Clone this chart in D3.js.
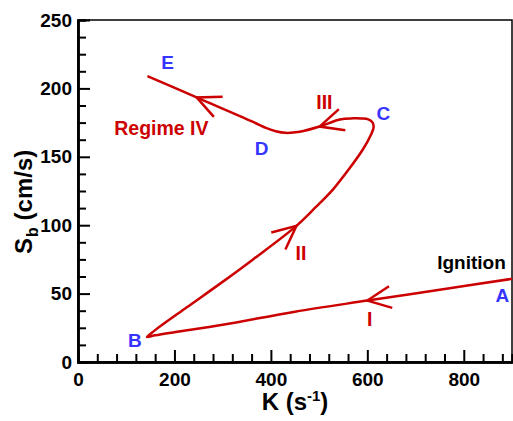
<!DOCTYPE html>
<html>
<head>
<meta charset="utf-8">
<script src="https://cdn.jsdelivr.net/npm/d3@7"></script>
<style>
  body { margin: 0; background: #fff; }
  text { font-family: "Liberation Sans", Arial, sans-serif; font-weight: bold; }
</style>
</head>
<body>
<div id="chart"></div>
<script>
// curve traced from A (ignition) through B, C, D to E
const curveK = [900, 750, 600, 450, 300, 200, 160, 143, 160, 225, 294, 363, 453, 494, 529, 563, 591, 608, 613, 611, 602, 588, 570, 543, 501, 460, 430, 410, 391, 363, 246, 144]
const curveS = [60.8, 52.8, 44.9, 36.8, 27.2, 21.8, 19.5, 18.3, 23.3, 39.8, 57.1, 75, 99.5, 113.5, 126.2, 141.5, 155.5, 166.5, 171.5, 175, 177.3, 178, 178.1, 177.3, 172.1, 168.3, 167.5, 168.7, 170.9, 175.5, 193.4, 209]

// arrow tips sit on the curve
const arrowK = [600, 453, 501, 246]
const arrowS = [44.9, 99.5, 172.1, 193.4]

const pointNames = ["A", "B", "C", "D", "E"]
const pointK = [880, 118, 633, 381, 186]
const pointS = [48.6, 16.1, 182.1, 156.2, 219.5]

const regimeNames = ["I", "II", "III", "Regime IV"]
const regimeK = [605, 462.5, 511, 173]
const regimeS = [31.5, 79.5, 190.2, 171]

const xTicks = [0, 200, 400, 600, 800]
const yTicks = [0, 50, 100, 150, 200, 250]

var margin = { top: 20, right: 1, bottom: 59, left: 78 }
  , width = 513 - margin.left - margin.right
  , height = 421 - margin.top - margin.bottom;

const red = "#cc0000", blue = "#3535ff"

var svg = d3.select("#chart").append("svg")
  .attr("width", 513)
  .attr("height", 421)
  .append("g")
  .attr("transform", "translate(" + margin.left + "," + margin.top + ")");

var x = d3.scaleLinear().domain([0, 900]).range([0, width])
var y = d3.scaleLinear().domain([0, 250]).range([height, 0])

// frame (top/right thin)
svg.append("rect")
  .attr("width", width).attr("height", height)
  .attr("fill", "none").attr("stroke", "#000").attr("stroke-width", 1.5)

// inward ticks, minor ones first
var xMinor = d3.range(0, 901, 40).filter(v => v % 200 != 0)
var yMinor = d3.range(0, 251, 12.5).filter(v => v % 50 != 0)

svg.append("g")
  .attr("transform", "translate(0," + height + ")")
  .call(d3.axisBottom(x).tickValues(xMinor).tickSize(-8).tickFormat(""))
svg.append("g")
  .call(d3.axisLeft(y).tickValues(yMinor).tickSize(-8).tickFormat(""))

var xAxis = svg.append("g")
  .attr("transform", "translate(0," + height + ")")
  .call(d3.axisBottom(x).tickValues(xTicks).tickSize(-12).tickPadding(10).tickSizeOuter(0))
var yAxis = svg.append("g")
  .call(d3.axisLeft(y).tickValues(yTicks).tickSize(-12).tickPadding(6).tickSizeOuter(0))

svg.selectAll(".tick line").attr("stroke-width", 2)
svg.selectAll(".domain").attr("stroke-width", 2.5)
xAxis.selectAll("text").attr("font-size", 19).attr("dy", "0.71em").attr("y", 11)
yAxis.selectAll("text").attr("font-size", 19).attr("x", -6)

// axis titles
var xt = svg.append("text")
  .attr("x", x(450)).attr("y", height + 48)
  .attr("text-anchor", "middle").attr("font-size", 24)
xt.append("tspan").text("K (s")
xt.append("tspan").attr("font-size", 15).attr("dy", -9).text("-1")
xt.append("tspan").attr("dy", 9).text(")")

var yt = svg.append("text")
  .attr("transform", "translate(" + (32 - margin.left) + "," + (y(120) + 4) + ") rotate(-90)")
  .attr("text-anchor", "middle").attr("font-size", 24)
yt.append("tspan").text("S")
yt.append("tspan").attr("font-size", 16).attr("dy", 6).attr("dx", 1).text("b")
yt.append("tspan").attr("dy", -6).text(" (cm/s)")

// the curve
var pts = curveK.map((k, i) => [k, curveS[i]])
var line = d3.line()
  .x(d => x(d[0]))
  .y(d => y(d[1]))
  .curve(d3.curveCatmullRom.alpha(0.5))

svg.append("path")
  .datum(pts)
  .attr("d", line)
  .attr("fill", "none")
  .attr("stroke", red)
  .attr("stroke-width", 2.5)
  .attr("stroke-linejoin", "round")

// open arrowheads in the direction of travel
arrowK.forEach((k, j) => {
  var i = curveK.findIndex((v, n) => v == k && curveS[n] == arrowS[j])
  var p0 = pts[i - 1], p1 = pts[i + 1]
  var dx = x(p1[0]) - x(p0[0]), dy = y(p1[1]) - y(p0[1])
  var ang = Math.atan2(-dy, -dx)
  var tx = x(k), ty = y(arrowS[j])
  var len = 26, spread = 25 * Math.PI / 180
  var barb = [ang - spread, ang + spread].map(a => [tx + len * Math.cos(a), ty + len * Math.sin(a)])
  svg.append("path")
    .attr("d", d3.line()([barb[0], [tx, ty], barb[1]]))
    .attr("fill", "none")
    .attr("stroke", red)
    .attr("stroke-width", 2.5)
})

svg.selectAll(".pname")
  .data(pointNames)
  .enter().append("text")
  .attr("x", (d, i) => x(pointK[i]))
  .attr("y", (d, i) => y(pointS[i]))
  .attr("dy", "0.36em")
  .attr("text-anchor", "middle")
  .attr("font-size", 19)
  .attr("fill", blue)
  .text(d => d)

svg.selectAll(".rname")
  .data(regimeNames)
  .enter().append("text")
  .attr("x", (d, i) => x(regimeK[i]))
  .attr("y", (d, i) => y(regimeS[i]))
  .attr("dy", "0.36em")
  .attr("text-anchor", "middle")
  .attr("font-size", 19.5)
  .attr("fill", red)
  .text(d => d)

svg.append("text")
  .attr("x", x(816)).attr("y", y(73))
  .attr("dy", "0.36em")
  .attr("text-anchor", "middle")
  .attr("font-size", 19)
  .attr("fill", "#000")
  .text("Ignition")
</script>
</body>
</html>
